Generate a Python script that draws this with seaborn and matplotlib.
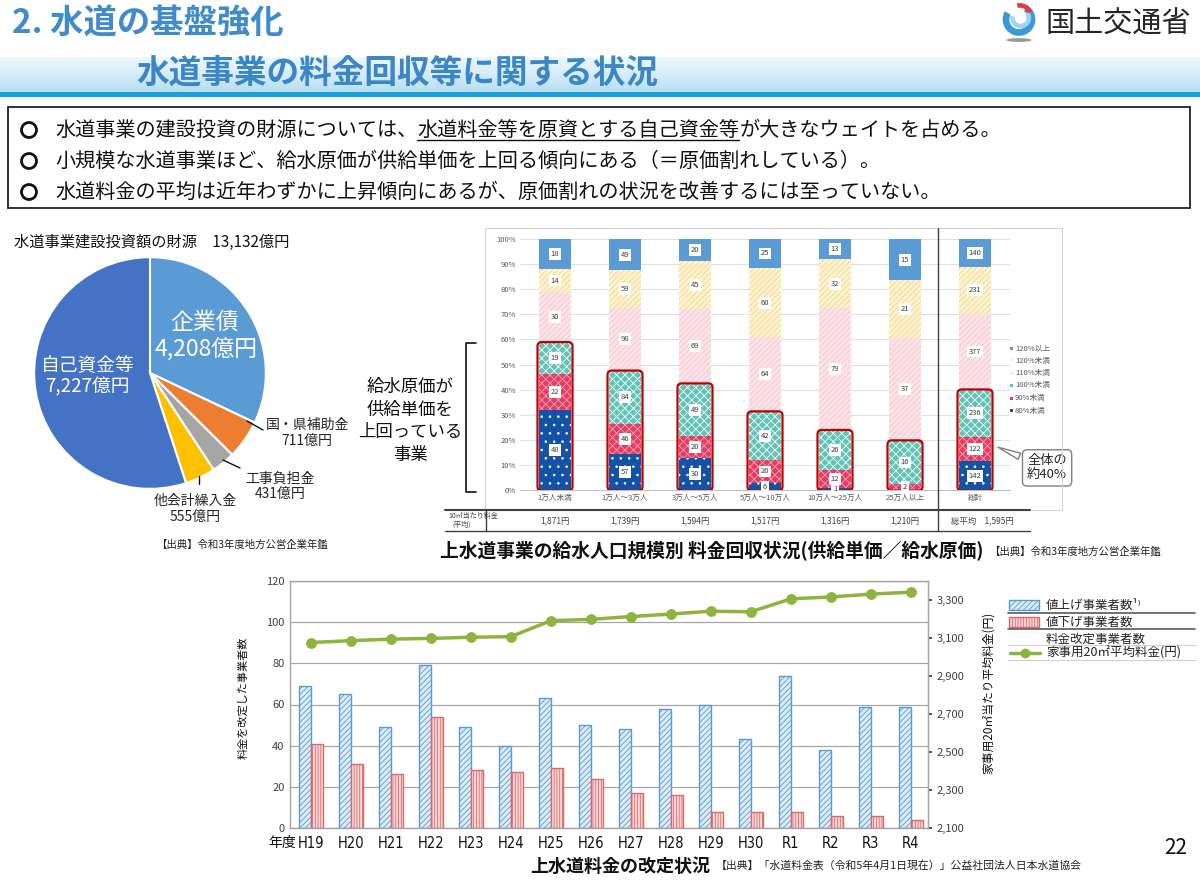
#!/usr/bin/env python3
"""
水道の基盤強化 - 水道事業の料金回収等に関する状況
Slide rebuilt with seaborn / matplotlib
"""

import numpy as np
import pandas as pd
import seaborn as sns
import matplotlib.pyplot as plt
from matplotlib.colors import LinearSegmentedColormap
from matplotlib.lines import Line2D
from matplotlib.patches import Rectangle, FancyBboxPatch, Wedge, Ellipse

W, H = 1200, 882

# ---- data: pie (建設投資の財源, 億円) ----
pie_labels = ['企業債', '国・県補助金', '工事負担金', '他会計繰入金', '自己資金等']
pie_values = [4208, 711, 431, 555, 7227]

# ---- data: 給水人口規模別 料金回収率 (事業数) ----
sizes = ['1万人未満', '1万人～3万人', '3万人～5万人', '5万人～10万人',
         '10万人～25万人', '25万人以上', '総計']
levels = ['120%以上', '120%未満', '110%未満', '100%未満', '90%未満', '80%未満']
n_120_over = [18, 49, 20, 25, 13, 15, 140]
n_120 = [14, 59, 45, 60, 32, 21, 231]
n_110 = [30, 98, 69, 64, 79, 37, 377]
n_100 = [19, 84, 49, 42, 26, 16, 236]
n_90 = [22, 46, 20, 20, 12, 2, 122]
n_80 = [48, 57, 30, 6, 1, 0, 142]
fee_10m3 = ['1,871円', '1,739円', '1,594円', '1,517円', '1,316円', '1,210円']
fee_total = '1,595円'

# ---- data: 料金改定状況 ----
years = ['H19', 'H20', 'H21', 'H22', 'H23', 'H24', 'H25', 'H26',
         'H27', 'H28', 'H29', 'H30', 'R1', 'R2', 'R3', 'R4']
raised = [69, 65, 49, 79, 49, 40, 63, 50, 48, 58, 60, 43, 74, 38, 59, 59]
lowered = [41, 31, 26, 54, 28, 27, 29, 24, 17, 16, 8, 8, 8, 6, 6, 4]
avg_price = [3076, 3086, 3094, 3098, 3104, 3107, 3191, 3198,
             3213, 3226, 3241, 3238, 3306, 3316, 3331, 3341]

# styles
pie_colors = ['#5B9BD5', '#ED7D31', '#A5A5A5', '#FFC000', '#4472C4']
level_style = {
    '120%以上': ('#5B9BD5', None, '#5B9BD5'),
    '120%未満': ('#FFF4D2', '//////', '#F1D386'),
    '110%未満': ('#FDE4E9', '//////', '#F5C2CC'),
    '100%未満': ('#5FC3B6', 'xxxx', '#FFFFFF'),
    '90%未満': ('#E43C62', 'xxxx', '#F7A6B8'),
    '80%未満': ('#1452A6', '..', '#FFFFFF'),
}

sns.set_theme(style='white')
FONT = ['Noto Sans CJK JP', 'DejaVu Sans']
plt.rcParams['font.family'] = FONT
plt.rcParams['hatch.linewidth'] = 0.6
plt.rcParams['axes.unicode_minus'] = False

fig = plt.figure(figsize=(12, 8.82), dpi=100)


def box(x, y, w, h):
    return [x / W, 1 - (y + h) / H, w / W, h / H]


def fx(x):
    return x / W


def fy(y):
    return 1 - y / H


def ftext(x, y, s, **kw):
    kw.setdefault('va', 'center')
    return fig.text(fx(x), fy(y), s, **kw)


def fline(xs, ys, **kw):
    fig.add_artist(Line2D([fx(v) for v in xs], [fy(v) for v in ys],
                          transform=fig.transFigure, **kw))


def frect(x, y, w, h, **kw):
    fig.add_artist(Rectangle((fx(x), fy(y + h)), w / W, h / H,
                             transform=fig.transFigure, **kw))


# ================= header =================
band = fig.add_axes(box(0, 57, 1200, 36))
grad = np.linspace(0, 1, 64).reshape(-1, 1)
band_cmap = LinearSegmentedColormap.from_list('band', ['#EEF7FC', '#D5ECF8', '#B5DDF0'])
band.imshow(grad, aspect='auto', cmap=band_cmap)
band.axis('off')
frect(0, 92, 1200, 5, color='#17A0DA', lw=0)

ftext(12, 23, '2. 水道の基盤強化', fontsize=24, fontweight='bold', color='#3F8BCB')
ftext(136, 73, '水道事業の料金回収等に関する状況', fontsize=23.5, fontweight='bold',
      color='#3A86C6')

# logo
logo = fig.add_axes(box(998, 1, 42, 42))
logo.set_xlim(-1, 1)
logo.set_ylim(-1, 1)
logo.set_aspect('equal')
logo.axis('off')
logo.add_patch(Wedge((0, 0.12), 0.78, 150, 420, width=0.32, fc='#3C98D8', ec='none'))
logo.add_patch(Wedge((0.08, 0.2), 0.5, 170, 400, width=0.22, fc='#9ED3F2', ec='none'))
logo.add_patch(Wedge((0.05, 0.28), 0.62, 20, 105, width=0.22, fc='#E23B3B', ec='none'))
logo.add_patch(Ellipse((0, -0.86), 1.2, 0.18, fc='#9A9A9A', ec='none'))
ftext(1045, 25, '国土交通省', fontsize=21, color='#262626')

# ================= bullet box =================
frect(8, 107, 1182, 101, fill=False, ec='#222222', lw=1.3)
BFS = 14.5
bullet_y = [130, 161, 192]
for by in bullet_y:
    # hollow bullet ring, sized in pixels so it stays round
    fig.add_artist(Ellipse((fx(29), fy(by)), 15 / W, 15 / H, transform=fig.transFigure,
                           fill=False, ec='#111111', lw=2))

renderer = fig.canvas.get_renderer()
t1 = ftext(55, bullet_y[0], '水道事業の建設投資の財源については、', fontsize=BFS, color='#111111')
bb1 = t1.get_window_extent(renderer=renderer)
t2 = fig.text(bb1.x1 / W, fy(bullet_y[0]), '水道料金等を原資とする自己資金等',
              fontsize=BFS, color='#111111', va='center')
bb2 = t2.get_window_extent(renderer=renderer)
fig.add_artist(Line2D([bb2.x0 / W, bb2.x1 / W], [(bb2.y0 + 1) / H] * 2,
                      transform=fig.transFigure, color='#111111', lw=1))
fig.text(bb2.x1 / W, fy(bullet_y[0]), 'が大きなウェイトを占める。',
         fontsize=BFS, color='#111111', va='center')
ftext(55, bullet_y[1], '小規模な水道事業ほど、給水原価が供給単価を上回る傾向にある（＝原価割れしている）。',
      fontsize=BFS, color='#111111')
ftext(55, bullet_y[2], '水道料金の平均は近年わずかに上昇傾向にあるが、原価割れの状況を改善するには至っていない。',
      fontsize=BFS, color='#111111')

# ================= pie =================
ftext(14, 242, '水道事業建設投資額の財源　13,132億円', fontsize=11, color='#111111')
pax = fig.add_axes(box(33, 256, 234, 234))
pax.pie(pie_values, colors=pie_colors, startangle=90, counterclock=False,
        wedgeprops=dict(edgecolor='white', linewidth=1.5))
pax.set_xlim(-1.01, 1.01)
pax.set_ylim(-1.01, 1.01)
pax.set_aspect('equal')

ftext(205, 322, '企業債', fontsize=16.5, color='white', ha='center')
ftext(206, 349, '4,208億円', fontsize=16.5, color='white', ha='center')
ftext(88, 365, '自己資金等', fontsize=13.5, color='white', ha='center')
ftext(87, 387, '7,227億円', fontsize=13.5, color='white', ha='center')
ftext(307, 433, '国・県補助金\n711億円', fontsize=10, ha='center', linespacing=1.15)
ftext(280, 486, '工事負担金\n431億円', fontsize=10, ha='center', linespacing=1.15)
ftext(195, 509, '他会計繰入金\n555億円', fontsize=10, ha='center', linespacing=1.15)
fline([247, 263], [421, 430], color='#111111', lw=1)
fline([223, 240], [460, 468], color='#111111', lw=1)
fline([199, 199], [476, 484], color='#111111', lw=1)
ftext(156, 545, '【出典】令和3年度地方公営企業年鑑', fontsize=7.5, color='#222222')

# ================= stacked recovery chart =================
frect(485, 228, 577, 282, fill=False, ec='#D3D3D3', lw=0.8)

cnt = pd.DataFrame({'80%未満': n_80, '90%未満': n_90, '100%未満': n_100,
                    '110%未満': n_110, '120%未満': n_120, '120%以上': n_120_over},
                   index=sizes)
pct = cnt.div(cnt.sum(axis=1), axis=0) * 100
cum = pct.cumsum(axis=1)

ax2 = fig.add_axes(box(520, 239, 490, 251))
for lvl in levels:  # top layer first, lower layers drawn over it
    face, hatch, hcol = level_style[lvl]
    sns.barplot(x=sizes, y=cum[lvl].to_numpy(), color=face, width=0.47,
                saturation=1, errorbar=None, ax=ax2)
    for p in ax2.containers[-1]:
        p.set_facecolor(face)
        p.set_edgecolor(hcol)
        p.set_linewidth(0)
        if hatch:
            p.set_hatch(hatch)

for i, s in enumerate(sizes):
    for lvl in levels:
        n = cnt.loc[s, lvl]
        if n > 0:
            ax2.text(i, cum.loc[s, lvl] - pct.loc[s, lvl] / 2, str(n), ha='center',
                     va='center', fontsize=5.5, color='#404040', zorder=6,
                     bbox=dict(boxstyle='square,pad=0.25', fc='white', ec='none'))
    ax2.add_patch(FancyBboxPatch((i - 0.25, -0.3), 0.5, cum.loc[s, '100%未満'] + 0.3,
                                 boxstyle='round,pad=0,rounding_size=0.06',
                                 mutation_aspect=28, fc='none', ec='#C00000',
                                 lw=1.6, zorder=5))

ax2.set_xlim(-0.5, 6.5)
ax2.set_ylim(0, 100)
ax2.set_yticks(range(0, 101, 10))
ax2.set_yticklabels([f'{v}%' for v in range(0, 101, 10)])
ax2.yaxis.grid(True, color='#D9D9D9', lw=0.6)
ax2.set_axisbelow(True)
ax2.tick_params(axis='both', labelsize=5.5, colors='#595959', length=0, pad=3)
ax2.set_xlabel('')
ax2.set_ylabel('')
for side in ['top', 'right', 'left']:
    ax2.spines[side].set_visible(False)
ax2.spines['bottom'].set_color('#BFBFBF')
ax2.spines['bottom'].set_linewidth(0.8)

# legend of stacked chart
leg_y = [348, 360.5, 373, 385.5, 398, 410.5]
for lvl, ly in zip(levels, leg_y):
    face, hatch, hcol = level_style[lvl]
    frect(1010, ly - 1.5, 3, 3, fc=face, ec='none')
    ftext(1015, ly, lvl, fontsize=5.5, color='#595959')

# callout
ax2.annotate('全体の\n約40%', xy=(6.29, 17.5), xytext=(7.03, 8.8), xycoords='data',
             textcoords='data', ha='center', va='center', fontsize=9.5,
             linespacing=1.1, annotation_clip=False, zorder=8,
             bbox=dict(boxstyle='round,pad=0.35', fc='white', ec='#7F7F7F', lw=1),
             arrowprops=dict(arrowstyle='wedge,tail_width=0.5,shrink_factor=0.5',
                             fc='white', ec='#7F7F7F', lw=1))

# bracket + label
fline([476, 466, 466, 476], [343, 343, 492, 492], color='#111111', lw=1.2)
for s, ly in zip(['給水原価が', '供給単価を', '上回っている', '事業'], [387, 410, 432, 455]):
    ftext(410, ly, s, fontsize=12.5, ha='center', color='#111111')

# fee table
fline([445, 1030], [510, 510], color='#404040', lw=1.5)
fline([445, 1030], [531, 531], color='#404040', lw=1)
fline([486, 486], [510, 531], color='#404040', lw=1)
fline([938, 938], [228, 531], color='#404040', lw=1)
ftext(448, 516, '10㎥当たり料金', fontsize=5, color='#404040')
ftext(452, 525, '(平均)', fontsize=5, color='#404040')
for i, f in enumerate(fee_10m3):
    ftext(555 + 70 * i, 521, f, fontsize=6, ha='center', color='#404040')
ftext(982, 521, '総平均　' + fee_total, fontsize=6, ha='center', color='#404040')

ftext(440, 551, '上水道事業の給水人口規模別 料金回収状況(供給単価／給水原価)',
      fontsize=13.5, fontweight='bold', color='#111111')
ftext(989, 552, '【出典】令和3年度地方公営企業年鑑', fontsize=7.5, color='#222222')

# ================= rate revision chart =================
ax3 = fig.add_axes(box(290, 581, 638, 247))
rev = pd.DataFrame({
    '年度': years * 2,
    '種別': ['値上げ事業者数'] * len(years) + ['値下げ事業者数'] * len(years),
    '事業者数': raised + lowered,
})
sns.barplot(data=rev, x='年度', y='事業者数', hue='種別',
            hue_order=['値上げ事業者数', '値下げ事業者数'],
            palette=['#DDEBF7', '#FADBDB'], width=0.6, saturation=1,
            errorbar=None, legend=False, ax=ax3)
bar_style = [('#5B9BD5', '//////'), ('#E06666', '||||||')]
for cont, (ec, hatch) in zip(ax3.containers, bar_style):
    for p in cont:
        p.set_edgecolor(ec)
        p.set_hatch(hatch)
        p.set_linewidth(1)

ax3.set_ylim(0, 120)
ax3.set_yticks(range(0, 121, 20))
ax3.yaxis.grid(True, color='#A6A6A6', lw=0.9)
ax3.set_axisbelow(True)
ax3.set_xlabel('')
ax3.set_ylabel('')
ax3.tick_params(axis='y', labelsize=8, colors='#404040', length=0, pad=4)
ax3.tick_params(axis='x', length=0, pad=6)
for lab in ax3.get_xticklabels():
    lab.set_fontfamily('DejaVu Sans')
    lab.set_fontstretch('condensed')
    lab.set_fontsize(10.5)
    lab.set_color('#111111')
for side in ax3.spines:
    ax3.spines[side].set_color('#A6A6A6')
    ax3.spines[side].set_linewidth(0.9)

ax4 = ax3.twinx()
sns.lineplot(x=np.arange(len(years)), y=avg_price, color='#8DB43E', marker='o',
             markersize=7, markeredgecolor='#8DB43E', linewidth=2.5, ax=ax4)
ax4.set_ylim(2100, 3400)
ax4.set_yticks(range(2100, 3301, 200))
ax4.set_yticklabels([f'{v:,}' for v in range(2100, 3301, 200)])
ax4.tick_params(axis='y', labelsize=8, colors='#404040', length=3, pad=3)
for side in ax4.spines:
    ax4.spines[side].set_color('#A6A6A6')
    ax4.spines[side].set_linewidth(0.9)
ax3.set_xlim(-0.52, 15.43)

ftext(282, 843, '年度', fontsize=10, ha='center', color='#111111')
ftext(243, 698, '料金を改定した事業者数', fontsize=8, rotation=90, ha='center',
      color='#111111')
ftext(988, 693, '家事用20㎡当たり平均料金(円)', fontsize=8.5, rotation=90, ha='center',
      color='#111111')

# legend
frect(1009, 600, 30, 10, fc='#DDEBF7', ec='#5B9BD5', hatch='//////', lw=1)
frect(1009, 617, 30, 10, fc='#FADBDB', ec='#E06666', hatch='||||||', lw=1)
fline([1010, 1040], [653, 653], color='#8DB43E', lw=2.5)
fig.add_artist(Line2D([fx(1025)], [fy(653)], marker='o', markersize=6,
                      color='#8DB43E', transform=fig.transFigure))
ftext(1046, 605, '値上げ事業者数¹⁾', fontsize=9, color='#222222')
ftext(1046, 622, '値下げ事業者数', fontsize=9, color='#222222')
ftext(1046, 639, '料金改定事業者数', fontsize=9, color='#222222')
ftext(1046, 653, '家事用20㎡平均料金(円)', fontsize=9, color='#222222')
fline([1008, 1195], [613, 613], color='#595959', lw=1.2)
fline([1008, 1195], [629, 629], color='#595959', lw=1.2)
fline([1008, 1195], [645, 645], color='#D0D0D0', lw=0.8)
fline([1008, 1195], [660, 660], color='#D0D0D0', lw=0.8)

ftext(530, 866, '上水道料金の改定状況', fontsize=13, fontweight='bold', color='#111111')
ftext(716, 866, '【出典】「水道料金表（令和5年4月1日現在）」公益社団法人日本水道協会',
      fontsize=7.8, color='#222222')
ftext(1176, 848, '22', fontsize=15, ha='center', color='#111111')

fig.savefig('out.png', dpi=100)
